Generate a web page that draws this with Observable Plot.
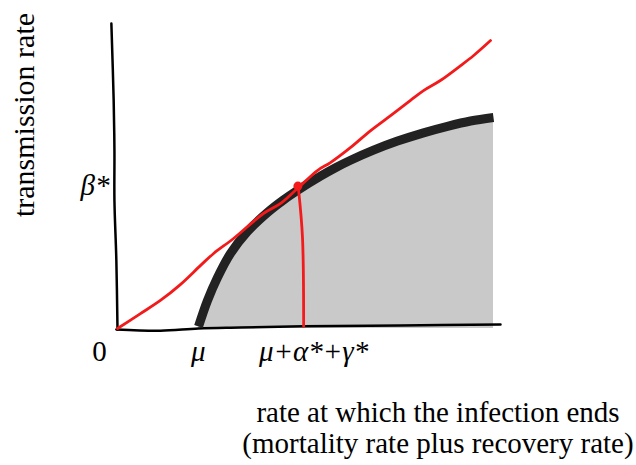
<!DOCTYPE html>
<html>
<head>
<meta charset="utf-8">
<script src="https://cdn.jsdelivr.net/npm/d3@7"></script>
<script src="https://cdn.jsdelivr.net/npm/@observablehq/plot@0.6"></script>
<style>
  html, body { margin: 0; padding: 0; background: #fff; }
  #chart svg { display: block; }
  #chart svg text { font-family: "Liberation Serif", "DejaVu Serif", serif !important; }
  #caption {
    font-family: "Liberation Serif", "DejaVu Serif", serif;
    font-size: 29px;
    line-height: 31px;
    color: #000;
    margin-left: 240px;
    width: 396px;
    text-align: center;
    margin-top: 7px;
    white-space: nowrap;
  }
</style>
</head>
<body>
<div id="chart"></div>
<div id="caption">rate at which the infection ends<br>(mortality rate plus recovery rate)</div>
<script>
// Thick black boundary curve (hand drawn)
const boundaryX = [2.115, 2.350, 2.611, 2.950, 3.394, 3.916, 4.334, 4.726, 5.300, 5.692, 6.084, 6.684, 7.311, 7.990, 8.616, 9.217, 9.817];
const boundaryY = [0.066, 0.918, 1.672, 2.459, 3.180, 3.803, 4.213, 4.548, 4.993, 5.269, 5.515, 5.846, 6.144, 6.416, 6.629, 6.803, 6.918];

// Red tangent line from the origin
const tangentX = [0, 0.60, 1.12, 1.64, 2.17, 2.51, 3.03, 3.81, 4.26, 4.70, 5.22, 5.56, 6.08, 6.61, 7.13, 7.65, 7.99, 8.43, 8.96, 9.30, 9.74];
const tangentY = [0, 0.49, 0.92, 1.44, 2.07, 2.46, 2.95, 3.77, 4.10, 4.59, 5.18, 5.44, 5.93, 6.49, 6.98, 7.48, 7.80, 8.13, 8.62, 8.95, 9.44];

// Red drop line from the tangent point to the x axis
const dropX = [4.73, 4.83, 4.86];
const dropY = [4.52, 2.98, 0.07];

// Tangent point
const pointX = [4.71];
const pointY = [4.67];

// Hand drawn axes
const yAxisX = [-0.16, -0.10, -0.08, -0.08, -0.03, 0];
const yAxisY = [10, 7.48, 5.84, 4.20, 2.23, -0.03];
const xAxisX = [-0.03, 1.12, 2.11, 3.21, 4.86, 7.39, 10];
const xAxisY = [-0.03, -0.07, 0, 0.03, 0.07, 0.10, 0.13];

// Tick labels
const xTickUpright = [-0.47];
const xTickUprightLabels = ["0"];
const xTickItalic = [2.11, 5.12];
const xTickItalicLabels = ["μ", "μ+α*+γ*"];
const yTicks = [4.69];
const yTickLabels = ["β*"];
const yLabel = "transmission rate";

const zip = (xs, ys) => xs.map((x, i) => ({x, y: ys[i]}));
const boundary = zip(boundaryX, boundaryY);
const tangent = zip(tangentX, tangentY);
const drop = zip(dropX, dropY);
const point = zip(pointX, pointY);
const yAxis = zip(yAxisX, yAxisY);
const xAxis = zip(xAxisX, xAxisY);

const RED = "#f21a1a";

const chart = Plot.plot({
  width: 636,
  height: 390,
  marginLeft: 117,
  marginRight: 136,
  marginTop: 23,
  marginBottom: 62,
  x: {domain: [0, 10], axis: null},
  y: {domain: [0, 10], axis: null},
  style: {fontSize: "28px", background: "#fff", color: "#000"},
  marks: [
    Plot.areaY(boundary, {x: "x", y: "y", fill: "#c9c9c9", curve: "catmull-rom"}),
    Plot.line(yAxis, {x: "x", y: "y", stroke: "#000", strokeWidth: 2.5, curve: "catmull-rom"}),
    Plot.line(xAxis, {x: "x", y: "y", stroke: "#000", strokeWidth: 2.5, curve: "catmull-rom"}),
    Plot.line(boundary, {x: "x", y: "y", stroke: "#222", strokeWidth: 9, curve: "catmull-rom", strokeLinecap: "butt"}),
    Plot.line(tangent, {x: "x", y: "y", stroke: RED, strokeWidth: 2.8, curve: "catmull-rom"}),
    Plot.line(drop, {x: "x", y: "y", stroke: RED, strokeWidth: 2.8, curve: "catmull-rom"}),
    Plot.dot(point, {x: "x", y: "y", r: 4.5, fill: RED}),
    // x tick labels
    Plot.text(xTickUpright, {x: d => d, text: (d, i) => xTickUprightLabels[i], frameAnchor: "bottom", lineAnchor: "top", dy: 12, fontSize: 29, fill: "#000"}),
    Plot.text(xTickItalic, {x: d => d, text: (d, i) => xTickItalicLabels[i], frameAnchor: "bottom", lineAnchor: "top", dy: 12, fontSize: 29, fontStyle: "italic", fill: "#000"}),
    // y tick label
    Plot.text(yTicks, {y: d => d, text: (d, i) => yTickLabels[i], frameAnchor: "left", textAnchor: "end", dx: -8, fontSize: 29, fontStyle: "italic", fill: "#000"}),
    // y axis title
    Plot.text([yLabel], {frameAnchor: "left", textAnchor: "middle", lineAnchor: "middle", rotate: -90, dx: -93, dy: -61, fontSize: 30, fill: "#000"})
  ]
});
document.getElementById("chart").append(chart);
</script>
</body>
</html>
